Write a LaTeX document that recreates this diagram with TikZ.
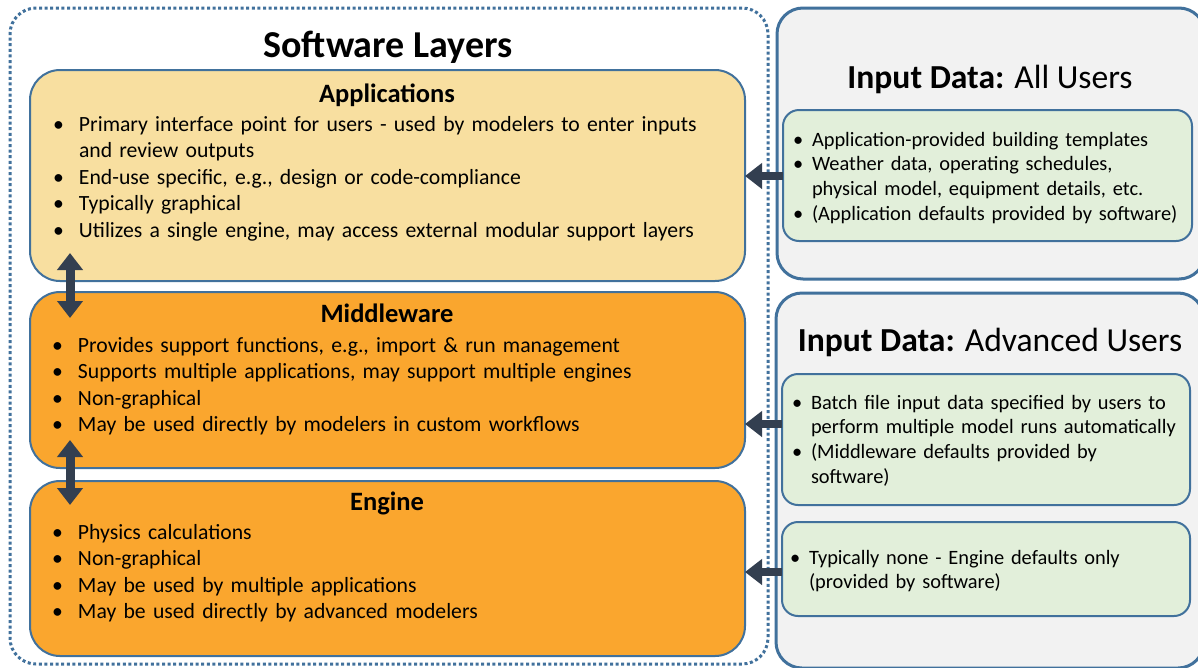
\documentclass[tikz,border=0pt]{standalone}
\usepackage{fontspec}
\setmainfont{Carlito}
\usetikzlibrary{arrows.meta}
\definecolor{bordc}{HTML}{41719C}
\definecolor{appc}{HTML}{F8DFA0}
\definecolor{orc}{HTML}{FAA62E}
\definecolor{grayc}{HTML}{F2F2F2}
\definecolor{greenc}{HTML}{E2EFDA}
\definecolor{arrc}{HTML}{333F50}
\newcommand\bi[1]{\noindent\hangindent=26pt\hangafter=1\makebox[26pt][l]{\textbullet}#1\par}
\newcommand\bj[1]{\noindent\hangindent=19pt\hangafter=1\makebox[19pt][l]{\textbullet}#1\par}
\begin{document}
\begin{tikzpicture}[x=1pt,y=-1pt,
  every node/.style={inner sep=0pt, outer sep=0pt},
  layerbox/.style={draw=bordc, line width=2pt, rounded corners=30pt, anchor=north west},
  sidebox/.style={draw=bordc, line width=3pt, fill=grayc, rounded corners=26pt, anchor=north west},
  greenbox/.style={draw=bordc, line width=2pt, fill=greenc, rounded corners=16pt, anchor=north west},
  outerbox/.style={draw=bordc, line width=3pt, dash pattern=on 3pt off 2.6pt, rounded corners=26pt, anchor=north west},
  bigtitle/.style={font=\fontsize{38}{44}\selectfont\bfseries, anchor=base},
  layertitle/.style={font=\fontsize{26.5}{30}\selectfont\bfseries, anchor=base},
  sidetitle/.style={font=\fontsize{33.6}{38}\selectfont, anchor=base},
  ltxt/.style={font=\fontsize{21.7}{26.6}\selectfont, text width=690pt, align=left, anchor=base west},
  rtxt/.style={font=\fontsize{20.4}{24.7}\selectfont, text width=400pt, align=left, anchor=base west},
  dblarrow/.style={draw=arrc, line width=9pt, {Triangle[length=17pt,width=25pt]}-{Triangle[length=17pt,width=25pt]}},
  sglarrow/.style={draw=arrc, line width=8pt, -{Triangle[length=17pt,width=25pt]}}
]
\useasboundingbox (0,0) rectangle (1198,667);
\clip (0,0) rectangle (1198,667);
\fill[white] (0,0) rectangle (1198,667);

% outer dotted frame
\node[outerbox, minimum width=758pt, minimum height=656pt] (outer) at (10,8) {};
\node[bigtitle] (swtitle) at (388,57) {Software Layers};

% layer boxes
\node[layerbox, fill=appc, minimum width=715pt, minimum height=211pt] (app) at (30,70) {};
\node[layerbox, fill=orc, minimum width=715pt, minimum height=176pt] (mw) at (30,292) {};
\node[layerbox, fill=orc, minimum width=715pt, minimum height=175pt] (eng) at (30,481) {};

\node[layertitle] (apptitle) at (387,102) {Applications};
\node[ltxt] (apptxt) at (53,131) {%
\bi{Primary interface point for users - used by modelers to enter inputs\newline and review outputs}%
\bi{End-use specific, e.g., design or code-compliance}%
\bi{Typically graphical}%
\bi{Utilizes a single engine, may access external modular support layers}};

\node[layertitle] (mwtitle) at (387,322) {Middleware};
\node[ltxt] (mwtxt) at (52,352) {%
\bi{Provides support functions, e.g., import \& run management}%
\bi{Supports multiple applications, may support multiple engines}%
\bi{Non-graphical}%
\bi{May be used directly by modelers in custom workflows}};

\node[layertitle] (engtitle) at (387,510) {Engine};
\node[ltxt] (engtxt) at (52,539) {%
\bi{Physics calculations}%
\bi{Non-graphical}%
\bi{May be used by multiple applications}%
\bi{May be used directly by advanced modelers}};

% side boxes
\node[sidebox, minimum width=428pt, minimum height=271pt] (alltop) at (777,8) {};
\node[sidebox, minimum width=428pt, minimum height=375pt] (advbot) at (776,293) {};
\node[sidetitle] (alltitle) at (990,88) {\textbf{Input Data:} All Users};
\node[sidetitle] (advtitle) at (990,351) {\textbf{Input Data:} Advanced Users};

\node[greenbox, minimum width=409pt, minimum height=131pt] (g1) at (783,110) {};
\node[greenbox, minimum width=408pt, minimum height=131pt] (g2) at (782,374) {};
\node[greenbox, minimum width=408pt, minimum height=94pt] (g3) at (782,522) {};

\node[rtxt] (g1txt) at (793,146) {%
\bj{Application-provided building templates}%
\bj{Weather data, operating schedules,\newline physical model, equipment details, etc.}%
\bj{(Application defaults provided by software)}};
\node[rtxt] (g2txt) at (792,409) {%
\bj{Batch file input data specified by users to\newline perform multiple model runs automatically}%
\bj{(Middleware defaults provided by\newline software)}};
\node[rtxt] (g3txt) at (790,564) {%
\bj{Typically none - Engine defaults only\newline (provided by software)}};

% connectors
\coordinate (d1a) at (70,253);
\coordinate (d1b) at (70,318);
\coordinate (d2a) at (70,440);
\coordinate (d2b) at (70,505);
\draw[dblarrow] (d1a) -- (d1b);
\draw[dblarrow] (d2a) -- (d2b);

\coordinate (y1) at (0,176);
\coordinate (y2) at (0,424);
\coordinate (y3) at (0,572);
\draw[sglarrow] (g1.west |- y1) -- (app.east |- y1);
\draw[sglarrow] (g2.west |- y2) -- (mw.east |- y2);
\draw[sglarrow] (g3.west |- y3) -- (eng.east |- y3);
\end{tikzpicture}
\end{document}
